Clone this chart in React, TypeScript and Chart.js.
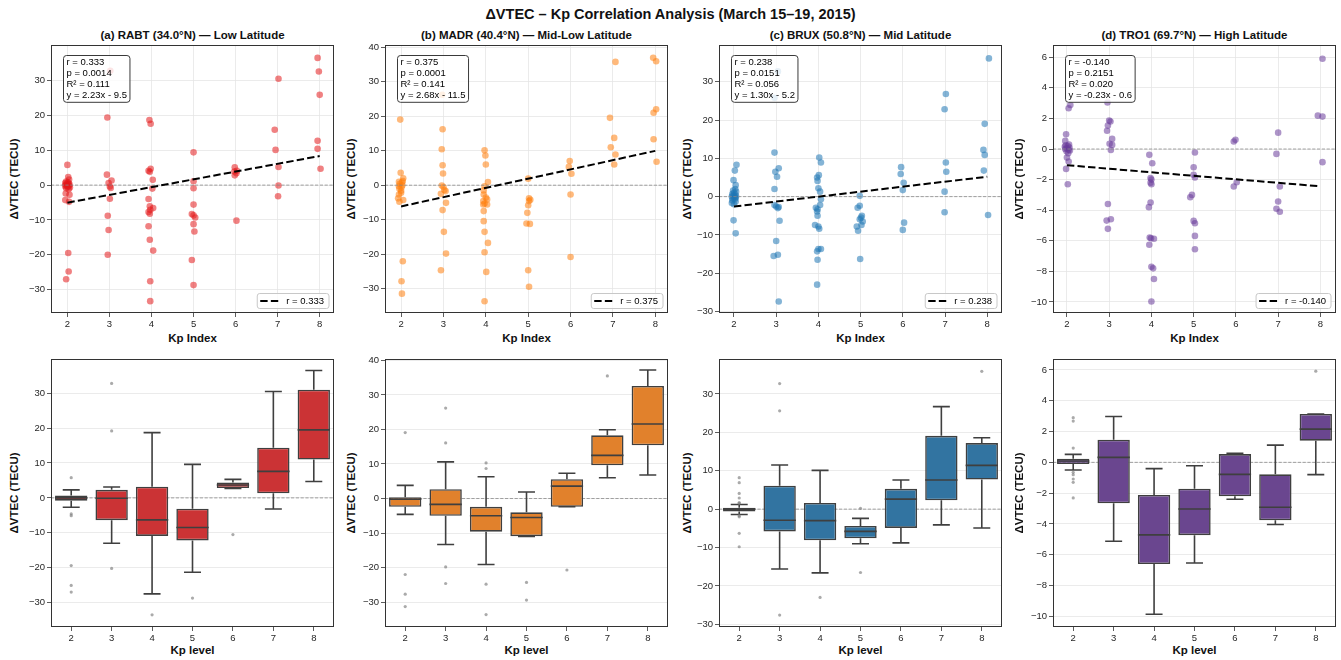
import React, { useEffect, useRef } from "react";
import { Chart, registerables } from "chart.js";

Chart.register(...registerables);

const FONT = '"Liberation Sans", Arial, Helvetica, sans-serif';

// ---------------- DATA ----------------
const KP = [2, 3, 4, 5, 6, 7, 8];
const X_TICKS = [2, 3, 4, 5, 6, 7, 8];

const TITLES = [
  "(a) RABT (34.0°N) — Low Latitude",
  "(b) MADR (40.4°N) — Mid-Low Latitude",
  "(c) BRUX (50.8°N) — Mid Latitude",
  "(d) TRO1 (69.7°N) — High Latitude",
];
const R_VALUES = ["0.333", "0.375", "0.238", "-0.140"];
const P_VALUES = ["0.0014", "0.0001", "0.0151", "0.2151"];
const R2_VALUES = ["0.111", "0.141", "0.056", "0.020"];
const SLOPES = [2.23, 2.68, 1.3, -0.23];
const INTERCEPTS = [-9.5, -11.5, -5.2, -0.6];

const Y_TICKS_A = [-30, -20, -10, 0, 10, 20, 30];
const Y_TICKS_B = [-30, -20, -10, 0, 10, 20, 30, 40];
const Y_TICKS_C = [-30, -20, -10, 0, 10, 20, 30];
const Y_TICKS_D = [-10, -8, -6, -4, -2, 0, 2, 4, 6];

const TOP_X_MIN = [1.61, 1.62, 1.645, 1.67];
const TOP_X_MAX = [8.34, 8.3, 8.35, 8.37];
const TOP_Y_MIN = [-36.7, -37.0, -30.4, -10.72];
const TOP_Y_MAX = [40.2, 40.6, 39.6, 6.8];
const BOT_X_MIN = 1.5;
const BOT_X_MAX = 8.5;
const BOT_Y_MIN = [-37.0, -37.2, -30.7, -10.69];
const BOT_Y_MAX = [39.8, 40.4, 39.1, 6.71];

// scatter points: [Kp (jittered), dVTEC]
const RABT_POINTS = [
  [2.0, 5.8], [2.02, 2.3], [2.04, 1.6], [1.97, 1.0], [2.01, 0.8], [1.95, 0.6], [2.03, 0.5], [1.99, 0.3],
  [2.05, 0.2], [1.96, 0.1], [2.02, 0.0], [1.98, -0.1], [2.04, -0.2], [1.95, -0.3], [2.01, -0.5], [2.06, -0.7],
  [1.97, -0.9], [2.03, -1.2], [1.96, -2.4], [2.05, -2.8], [1.95, -4.3], [2.04, -4.8], [2.02, -19.5], [2.03, -24.8],
  [1.97, -27.0],
  [3.02, 32.8], [2.95, 19.4], [2.94, 3.0], [3.05, 1.3], [2.98, 0.6], [3.01, -0.4], [3.03, -0.8], [3.01, -3.9],
  [2.96, -8.8], [2.98, -12.9], [2.96, -20.0],
  [3.95, 18.7], [3.98, 17.6], [3.98, 4.7], [3.93, 4.1], [3.96, 3.8], [4.03, 1.5], [4.02, -1.0], [3.93, -4.0],
  [3.96, -6.1], [4.04, -6.6], [3.97, -7.1], [3.93, -7.7], [3.96, -8.2], [3.93, -11.8], [3.96, -15.7], [4.04, -18.8],
  [3.97, -27.6], [3.97, -33.3],
  [5.0, 9.4], [5.0, 1.1], [5.0, -0.9], [5.0, -5.6], [4.96, -8.3], [5.0, -8.7], [5.04, -9.3], [5.0, -11.2],
  [5.02, -13.3], [4.96, -21.5], [5.0, -28.7],
  [5.98, 5.1], [6.03, 4.1], [5.97, 3.9], [6.02, 3.4], [5.98, 2.8], [6.02, -10.2],
  [7.02, 30.5], [6.93, 15.9], [6.95, 10.1], [7.02, 5.2], [7.02, -0.1], [7.01, -3.2],
  [7.95, 36.5], [7.98, 32.6], [8.0, 25.9], [7.95, 12.7], [7.95, 10.4], [8.02, 4.7],
];
const MADR_POINTS = [
  [1.98, 19.0], [1.99, 3.6], [2.05, 2.0], [2.04, 1.2], [1.95, 1.0], [2.02, 0.8], [1.97, 0.4], [2.03, 0.0],
  [1.95, -0.3], [2.01, -0.6], [1.96, -1.0], [2.0, -1.6], [2.0, -2.2], [1.95, -2.7], [1.93, -3.8], [2.05, -4.3],
  [1.96, -4.8], [2.04, -22.0], [2.01, -27.8], [2.02, -31.4],
  [2.97, 26.2], [2.98, 16.2], [2.96, 10.4], [2.98, 5.8], [2.99, 3.4], [2.96, -0.1], [3.0, -0.5], [3.02, -1.4],
  [3.05, -1.7], [2.94, -2.5], [3.06, -5.1], [2.98, -7.2], [3.01, -13.5], [3.06, -19.8], [2.94, -24.6],
  [3.97, 10.1], [3.99, 8.6], [4.0, 6.0], [4.05, 0.9], [3.97, -0.3], [3.95, -1.5], [3.95, -2.7], [4.0, -3.6],
  [4.03, -4.1], [3.94, -4.6], [3.97, -5.3], [3.94, -5.6], [4.03, -5.6], [3.95, -7.5], [3.95, -10.4], [3.97, -13.5],
  [4.05, -16.7], [3.97, -19.4], [4.01, -25.1], [3.97, -33.6],
  [5.0, 1.9], [5.02, -3.8], [5.05, -4.2], [5.02, -4.6], [5.0, -5.8], [4.98, -8.0], [4.96, -11.1], [5.04, -11.2],
  [5.0, -24.6], [5.02, -29.4],
  [5.98, 7.0], [5.96, 5.3], [6.02, 3.3], [6.0, -2.7], [6.0, -20.8],
  [7.06, 35.7], [6.93, 19.5], [7.03, 13.7], [6.95, 11.0], [7.06, 8.9], [7.03, 6.0],
  [7.95, 36.9], [8.02, 35.9], [8.02, 22.0], [7.96, 21.0], [7.96, 13.3], [8.03, 6.8],
];
const BRUX_POINTS = [
  [2.06, 8.3], [2.02, 6.8], [1.99, 4.3], [2.04, 3.0], [2.03, 2.0], [1.98, 1.6], [2.05, 1.3], [2.0, 1.0],
  [1.96, 0.7], [2.03, 0.5], [1.98, 0.3], [2.05, 0.1], [1.95, 0.0], [2.01, -0.1], [2.04, -0.3], [1.97, -0.5],
  [2.02, -0.7], [1.96, -1.0], [2.04, -1.3], [1.95, -1.7], [2.0, -2.0], [1.99, -6.2], [2.04, -9.6],
  [3.04, 32.7], [2.96, 25.8], [2.96, 11.5], [2.98, 6.5], [3.06, 7.4], [3.02, 5.2], [2.96, 2.0], [2.96, -2.2],
  [3.0, -2.6], [3.04, -3.0], [3.06, -2.7], [3.08, -6.3], [3.0, -11.6], [2.94, -15.5], [3.04, -15.2], [3.06, -27.4],
  [4.02, 10.2], [4.06, 8.9], [4.01, 5.6], [3.97, 5.0], [3.98, 4.1], [4.0, 2.2], [4.04, 1.3], [4.06, -0.7],
  [4.04, -2.2], [3.94, -2.9], [3.98, -3.3], [3.97, -3.9], [3.98, -5.0], [3.92, -7.4], [4.0, -7.8], [4.02, -8.4],
  [4.0, -13.7], [4.06, -13.7], [3.97, -14.3], [3.98, -16.5], [3.97, -23.0],
  [4.98, 0.2], [4.93, -2.9], [4.98, -2.4], [5.03, -5.0], [5.01, -5.5], [4.98, -5.9], [5.05, -6.5], [5.02, -7.4],
  [4.91, -7.8], [4.94, -8.9], [4.99, -16.3],
  [5.96, 7.7], [5.95, 5.9], [6.02, 3.6], [6.0, 1.7], [6.03, -6.8], [6.0, -8.7],
  [7.02, 26.8], [6.99, 22.8], [7.02, 8.9], [7.03, 6.5], [6.99, 1.3], [6.99, -4.1],
  [8.04, 36.1], [7.94, 19.0], [7.91, 12.2], [7.94, 10.9], [7.92, 6.8], [8.02, -4.8],
];
const TRO1_POINTS = [
  [2.08, 2.88], [2.04, 2.67], [1.98, 0.97], [1.96, 0.53], [2.05, 0.3], [1.97, 0.25], [2.02, 0.2], [1.95, 0.15],
  [2.06, 0.1], [2.0, 0.05], [1.96, 0.0], [2.04, -0.05], [2.07, -0.1], [1.99, -0.15], [2.03, -0.27], [2.0, -0.56],
  [2.04, -0.82], [1.98, -1.3], [2.02, -2.3],
  [2.96, 3.04], [3.0, 1.86], [3.03, 1.8], [2.97, 1.53], [2.95, 1.19], [3.07, 0.66], [3.01, 0.34], [3.07, 0.27],
  [3.04, -0.06], [2.97, -3.59], [2.94, -4.68], [3.04, -4.59], [2.97, -5.22],
  [3.95, -0.38], [4.02, -0.93], [3.98, -1.9], [4.0, -2.0], [3.98, -2.2], [4.0, -2.3], [3.98, -3.5], [3.94, -3.8],
  [3.96, -5.79], [3.99, -5.83], [4.06, -5.87], [3.95, -6.26], [4.0, -7.7], [4.04, -7.8], [4.06, -8.5], [4.0, -9.97],
  [5.03, -0.23], [5.0, -1.19], [5.0, -1.69], [5.03, -1.86], [4.96, -3.0], [4.92, -3.15], [5.0, -4.7], [5.03, -4.85],
  [5.03, -5.68], [5.03, -6.55],
  [5.95, 0.49], [5.99, 0.6], [6.02, -2.17], [5.95, -2.45],
  [7.0, 1.07], [6.96, -0.32], [7.04, -2.45], [7.0, -3.43], [6.96, -3.9], [7.04, -4.1],
  [8.05, 5.9], [7.94, 2.18], [8.05, 2.12], [8.05, -0.86],
];

// box-plot statistics per Kp level 2..8
const RABT_Q1 = [-0.8, -6.4, -10.9, -12.2, 2.8, 1.3, 11.0];
const RABT_MED = [0.0, -0.1, -6.3, -8.5, 3.7, 7.6, 19.5];
const RABT_Q3 = [0.7, 2.3, 3.2, -3.1, 4.4, 14.4, 31.0];
const RABT_LO = [-2.7, -13.0, -27.5, -21.3, 2.7, -3.2, 4.7];
const RABT_HI = [2.3, 3.1, 18.7, 9.6, 5.3, 30.5, 36.5];
const RABT_OUT = [[2, 5.8], [2, -4.6], [2, -5.1], [2, -19.4], [2, -25.1], [2, -27.0], [3, 32.8], [3, 19.2], [3, -20.2], [4, -33.5], [5, -28.7], [6, -10.5]];

const MADR_Q1 = [-2.4, -5.0, -9.6, -10.9, -2.4, 9.6, 15.4];
const MADR_MED = [-0.2, -1.7, -5.0, -5.5, 3.6, 12.5, 21.6];
const MADR_Q3 = [0.4, 2.7, -2.4, -4.0, 5.6, 18.3, 32.6];
const MADR_LO = [-4.6, -13.3, -19.1, -11.0, -2.4, 6.0, 6.8];
const MADR_HI = [3.8, 10.6, 6.3, 1.9, 7.3, 19.9, 37.2];
const MADR_OUT = [[2, 19.1], [2, -22.0], [2, -27.7], [2, -31.3], [3, 26.2], [3, 16.1], [3, -19.8], [3, -24.6], [4, 10.3], [4, 8.7], [4, -24.8], [4, -33.6], [5, -24.3], [5, -29.4], [6, -20.7], [7, 35.5]];

const BRUX_Q1 = [-0.6, -5.8, -8.1, -7.6, -4.9, 2.3, 7.7];
const BRUX_MED = [0.0, -2.9, -3.0, -5.8, 2.6, 7.6, 11.4];
const BRUX_Q3 = [0.35, 6.1, 1.6, -4.4, 5.3, 19.1, 17.2];
const BRUX_LO = [-1.4, -15.6, -16.6, -9.0, -8.8, -4.1, -4.9];
const BRUX_HI = [1.2, 11.5, 10.1, -2.4, 7.6, 26.7, 18.6];
const BRUX_OUT = [[2, 8.2], [2, 6.9], [2, 4.1], [2, 2.9], [2, 1.7], [2, 1.5], [2, -1.7], [2, -2.0], [2, -6.3], [2, -9.8], [3, 32.7], [3, 25.6], [3, -27.6], [4, -23.0], [5, 0.2], [5, -16.5], [8, 35.9]];

const TRO1_Q1 = [-0.11, -2.66, -6.6, -4.73, -2.2, -3.76, 1.41];
const TRO1_MED = [0.09, 0.32, -4.71, -3.03, -0.78, -2.92, 2.16];
const TRO1_Q3 = [0.24, 1.47, -2.12, -1.71, 0.54, -0.78, 3.14];
const TRO1_LO = [-0.5, -5.12, -9.86, -6.53, -2.4, -4.04, -0.8];
const TRO1_HI = [0.52, 2.98, -0.41, -0.22, 0.58, 1.12, 3.14];
const TRO1_OUT = [[2, 2.9], [2, 2.68], [2, 0.93], [2, -0.65], [2, -0.8], [2, -1.08], [2, -1.3], [2, -2.31], [8, 5.92]];

// ---------------- STYLE / LAYOUT ----------------
const SCATTER_COLORS = ["rgba(228,26,28,0.55)", "rgba(255,127,14,0.55)", "rgba(31,119,180,0.55)", "rgba(106,61,154,0.55)"];
const BOX_COLORS = ["#cb3335", "#e1812c", "#3274a1", "#6a468f"];
const BOX_EDGE = "#3f3f3f";
const GRID = "#e6e6e6";
const ZERO = "#8a8a8a";
const TICK_TXT = "#262626";

const POINTS = [RABT_POINTS, MADR_POINTS, BRUX_POINTS, TRO1_POINTS];
const Y_TICKS = [Y_TICKS_A, Y_TICKS_B, Y_TICKS_C, Y_TICKS_D];
const Q1S = [RABT_Q1, MADR_Q1, BRUX_Q1, TRO1_Q1];
const MEDS = [RABT_MED, MADR_MED, BRUX_MED, TRO1_MED];
const Q3S = [RABT_Q3, MADR_Q3, BRUX_Q3, TRO1_Q3];
const LOS = [RABT_LO, MADR_LO, BRUX_LO, TRO1_LO];
const HIS = [RABT_HI, MADR_HI, BRUX_HI, TRO1_HI];
const OUTS = [RABT_OUT, MADR_OUT, BRUX_OUT, TRO1_OUT];

const PLOT_LEFT = [51, 385, 719, 1053];
const PLOT_W = 283;
const PLOT_H = 268;
const TOP_Y0 = 45;
const BOT_Y0 = 359;
const YLABEL_OFF = [36, 33, 31, 33];
const AX_W = 45;
const AX_H = 20;
const PAD_L = 2;
const PAD_T = 10;
const PAD_R = 8;
const PAD_B = 2;

const fmt = (v: any) => {
  const n = Number(v);
  return n < 0 ? "\u2212" + String(Math.abs(n)) : String(n);
};

function roundRect(ctx: CanvasRenderingContext2D, x: number, y: number, w: number, h: number, r: number) {
  ctx.beginPath();
  ctx.moveTo(x + r, y);
  ctx.lineTo(x + w - r, y);
  ctx.arcTo(x + w, y, x + w, y + r, r);
  ctx.lineTo(x + w, y + h - r);
  ctx.arcTo(x + w, y + h, x + w - r, y + h, r);
  ctx.lineTo(x + r, y + h);
  ctx.arcTo(x, y + h, x, y + h - r, r);
  ctx.lineTo(x, y + r);
  ctx.arcTo(x, y, x + r, y, r);
  ctx.closePath();
}

const decorPlugin = {
  id: "decor",
  afterDatasetsDraw(chart: any) {
    const o = chart.options.plugins.decor || {};
    const { left, top, right, bottom } = chart.chartArea;
    const ctx: CanvasRenderingContext2D = chart.ctx;
    ctx.save();
    if (o.stats) {
      ctx.font = `9.5px ${FONT}`;
      const lineH = 10.7;
      const padX = 3;
      const w = Math.max(...o.stats.map((s: string) => ctx.measureText(s).width)) + 2 * padX;
      const h = lineH * o.stats.length + 4;
      const x0 = left + 12.5;
      const y0 = top + 10.5;
      roundRect(ctx, x0, y0, w, h, 3);
      ctx.fillStyle = "rgba(255,255,255,0.8)";
      ctx.fill();
      ctx.strokeStyle = "#3a3a3a";
      ctx.lineWidth = 1;
      ctx.stroke();
      ctx.fillStyle = "#000";
      ctx.textBaseline = "middle";
      ctx.textAlign = "left";
      o.stats.forEach((s: string, i: number) => ctx.fillText(s, x0 + padX, y0 + 2 + lineH * (i + 0.5)));
    }
    if (o.legend) {
      ctx.font = `9.5px ${FONT}`;
      const tw = ctx.measureText(o.legend).width;
      const w = 3 + 20 + 6 + tw + 5;
      const h = 15;
      const x0 = right - 5 - w;
      const y0 = bottom - 4.5 - h;
      roundRect(ctx, x0, y0, w, h, 2.5);
      ctx.fillStyle = "rgba(255,255,255,0.8)";
      ctx.fill();
      ctx.strokeStyle = "#c8c8c8";
      ctx.lineWidth = 1;
      ctx.stroke();
      ctx.beginPath();
      ctx.setLineDash([7.4, 3.2]);
      ctx.strokeStyle = "#000";
      ctx.lineWidth = 2;
      ctx.moveTo(x0 + 3, y0 + h / 2);
      ctx.lineTo(x0 + 23, y0 + h / 2);
      ctx.stroke();
      ctx.setLineDash([]);
      ctx.fillStyle = "#000";
      ctx.textBaseline = "middle";
      ctx.fillText(o.legend, x0 + 29, y0 + h / 2 + 0.5);
    }
    ctx.restore();
  },
  afterDraw(chart: any) {
    const { left, top, right, bottom } = chart.chartArea;
    const ctx: CanvasRenderingContext2D = chart.ctx;
    ctx.save();
    ctx.strokeStyle = "#333";
    ctx.lineWidth = 1;
    ctx.strokeRect(left + 0.5, top + 0.5, right - left - 1, bottom - top - 1);
    ctx.restore();
  },
};

function scaleX(min: number, max: number, gridOnArea: boolean) {
  return {
    type: "linear",
    min,
    max,
    offset: false,
    grid: {
      display: true,
      offset: false,
      drawOnChartArea: gridOnArea,
      color: GRID,
      lineWidth: 0.8,
      tickColor: "#333",
      tickLength: 4,
      tickWidth: 0.8,
    },
    border: { display: false },
    ticks: { font: { family: FONT, size: 9.5 }, color: TICK_TXT, padding: 2, autoSkip: false, maxRotation: 0, callback: fmt },
    afterBuildTicks: (s: any) => {
      s.ticks = X_TICKS.map((v) => ({ value: v }));
    },
    afterFit: (s: any) => {
      s.height = AX_H;
      s.paddingLeft = 0;
      s.paddingRight = 0;
      s.paddingTop = 0;
      s.paddingBottom = 0;
    },
  };
}

function scaleY(min: number, max: number, ticks: number[]) {
  return {
    type: "linear",
    min,
    max,
    offset: false,
    grid: {
      display: true,
      offset: false,
      drawOnChartArea: true,
      color: GRID,
      lineWidth: 0.8,
      tickColor: "#333",
      tickLength: 4,
      tickWidth: 0.8,
    },
    border: { display: false },
    ticks: { font: { family: FONT, size: 9.5 }, color: TICK_TXT, padding: 2, autoSkip: false, callback: fmt },
    afterBuildTicks: (s: any) => {
      s.ticks = ticks.map((v) => ({ value: v }));
    },
    afterFit: (s: any) => {
      s.width = AX_W;
      s.paddingLeft = 0;
      s.paddingRight = 0;
      s.paddingTop = 0;
      s.paddingBottom = 0;
    },
  };
}

function baseOptions(decor: any, x: any, y: any) {
  return {
    animation: false,
    responsive: false,
    devicePixelRatio: 1,
    events: [],
    layout: { padding: { left: PAD_L, top: PAD_T, right: PAD_R, bottom: PAD_B } },
    plugins: { legend: { display: false }, tooltip: { enabled: false }, title: { display: false }, decor },
    scales: { x, y },
  };
}

function buildTop(i: number) {
  const xmin = TOP_X_MIN[i];
  const xmax = TOP_X_MAX[i];
  const fit = (x: number) => SLOPES[i] * x + INTERCEPTS[i];
  const eq = `y = ${SLOPES[i].toFixed(2)}x - ${Math.abs(INTERCEPTS[i]).toFixed(1)}`;
  return {
    type: "scatter",
    data: {
      datasets: [
        {
          type: "line",
          data: [{ x: 2, y: fit(2) }, { x: 8, y: fit(8) }],
          borderColor: "#000",
          borderWidth: 2,
          borderDash: [7.4, 3.2],
          pointRadius: 0,
          order: 0,
        },
        {
          type: "line",
          data: [{ x: xmin, y: 0 }, { x: xmax, y: 0 }],
          borderColor: ZERO,
          borderWidth: 0.8,
          borderDash: [3.2, 1.6],
          pointRadius: 0,
          order: 1,
        },
        {
          type: "scatter",
          data: POINTS[i].map(([x, y]) => ({ x, y })),
          backgroundColor: SCATTER_COLORS[i],
          borderWidth: 0,
          pointRadius: 3.3,
          order: 2,
        },
      ],
    },
    options: baseOptions(
      {
        stats: [`r = ${R_VALUES[i]}`, `p = ${P_VALUES[i]}`, `R² = ${R2_VALUES[i]}`, eq],
        legend: `r = ${R_VALUES[i]}`,
      },
      scaleX(xmin, xmax, true),
      scaleY(TOP_Y_MIN[i], TOP_Y_MAX[i], Y_TICKS[i])
    ),
    plugins: [decorPlugin],
  };
}

function buildBottom(i: number) {
  const q1 = Q1S[i], med = MEDS[i], q3 = Q3S[i], lo = LOS[i], hi = HIS[i];
  const CAP = 0.21;
  const HALF = 0.4;
  const whiskers: any[] = [];
  const medians: any[] = [];
  KP.forEach((k, j) => {
    whiskers.push({ x: k, y: q3[j] }, { x: k, y: hi[j] }, { x: k, y: null });
    whiskers.push({ x: k - CAP, y: hi[j] }, { x: k + CAP, y: hi[j] }, { x: k, y: null });
    whiskers.push({ x: k, y: q1[j] }, { x: k, y: lo[j] }, { x: k, y: null });
    whiskers.push({ x: k - CAP, y: lo[j] }, { x: k + CAP, y: lo[j] }, { x: k, y: null });
    medians.push({ x: k - HALF, y: med[j] }, { x: k + HALF, y: med[j] }, { x: k, y: null });
  });
  return {
    type: "scatter",
    data: {
      datasets: [
        {
          type: "line",
          data: medians,
          borderColor: BOX_EDGE,
          borderWidth: 1.6,
          pointRadius: 0,
          spanGaps: false,
          order: 0,
        },
        {
          type: "scatter",
          data: OUTS[i].map(([x, y]) => ({ x, y })),
          backgroundColor: "rgba(125,125,125,0.65)",
          borderWidth: 0,
          pointRadius: 1.6,
          order: 1,
        },
        {
          type: "line",
          data: whiskers,
          borderColor: BOX_EDGE,
          borderWidth: 1.6,
          pointRadius: 0,
          spanGaps: false,
          order: 2,
        },
        {
          type: "bar",
          data: KP.map((k, j) => ({ x: k, y: [q1[j], q3[j]] })),
          backgroundColor: BOX_COLORS[i],
          borderColor: BOX_EDGE,
          borderWidth: 1.6,
          borderSkipped: false,
          barPercentage: 1,
          categoryPercentage: 0.8,
          order: 3,
        },
        {
          type: "line",
          data: [{ x: BOT_X_MIN, y: 0 }, { x: BOT_X_MAX, y: 0 }],
          borderColor: ZERO,
          borderWidth: 0.8,
          borderDash: [3.2, 1.6],
          pointRadius: 0,
          order: 4,
        },
      ],
    },
    options: baseOptions({}, scaleX(BOT_X_MIN, BOT_X_MAX, false), scaleY(BOT_Y_MIN[i], BOT_Y_MAX[i], Y_TICKS[i])),
    plugins: [decorPlugin],
  };
}

function Panel({ row, idx }: { row: "top" | "bottom"; idx: number }) {
  const ref = useRef<HTMLCanvasElement | null>(null);
  useEffect(() => {
    const cfg: any = row === "top" ? buildTop(idx) : buildBottom(idx);
    const chart = new Chart(ref.current as HTMLCanvasElement, cfg);
    return () => chart.destroy();
  }, [row, idx]);
  const left = PLOT_LEFT[idx] - AX_W - PAD_L;
  const top = (row === "top" ? TOP_Y0 : BOT_Y0) - PAD_T;
  const w = PLOT_W + AX_W + PAD_L + PAD_R;
  const h = PLOT_H + AX_H + PAD_T + PAD_B;
  return (
    <canvas
      ref={ref}
      width={w}
      height={h}
      style={{ position: "absolute", left, top, width: w, height: h }}
    />
  );
}

function Label({ x, y, text, size, bold, rotate }: { x: number; y: number; text: string; size: number; bold?: boolean; rotate?: boolean }) {
  return (
    <div
      style={{
        position: "absolute",
        left: x,
        top: y,
        transform: `translate(-50%, -50%)${rotate ? " rotate(-90deg)" : ""}`,
        fontFamily: FONT,
        fontSize: size,
        fontWeight: bold ? 700 : 400,
        color: "#111",
        whiteSpace: "nowrap",
        lineHeight: 1,
      }}
    >
      {text}
    </div>
  );
}

export default function App() {
  const idxs = [0, 1, 2, 3];
  return (
    <div style={{ position: "absolute", left: 0, top: 0, width: 1341, height: 660, background: "#fff", overflow: "hidden" }}>
      <Label x={670.5} y={14} text="ΔVTEC – Kp Correlation Analysis (March 15–19, 2015)" size={14.5} bold />
      {idxs.map((i) => (
        <React.Fragment key={i}>
          <Label x={PLOT_LEFT[i] + PLOT_W / 2} y={36} text={TITLES[i]} size={11.5} bold />
          <Label x={PLOT_LEFT[i] - YLABEL_OFF[i]} y={TOP_Y0 + PLOT_H / 2} text="ΔVTEC (TECU)" size={11.5} bold rotate />
          <Label x={PLOT_LEFT[i] - YLABEL_OFF[i]} y={BOT_Y0 + PLOT_H / 2} text="ΔVTEC (TECU)" size={11.5} bold rotate />
          <Label x={PLOT_LEFT[i] + PLOT_W / 2} y={339} text="Kp Index" size={11.5} bold />
          <Label x={PLOT_LEFT[i] + PLOT_W / 2} y={651} text="Kp level" size={11.5} bold />
          <Panel row="top" idx={i} />
          <Panel row="bottom" idx={i} />
        </React.Fragment>
      ))}
    </div>
  );
}
